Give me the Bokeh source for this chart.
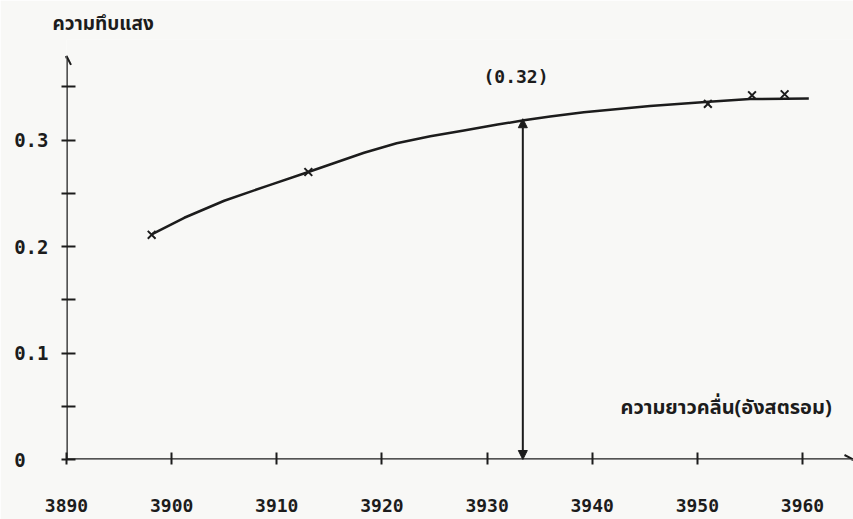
from bokeh.plotting import figure
from bokeh.models import Range1d, FixedTicker, Arrow, NormalHead, OpenHead, Label
from bokeh.embed import file_html
from bokeh.resources import INLINE

# ---- data ----
x_ticks = [3890, 3900, 3910, 3920, 3930, 3940, 3950, 3960]
y_ticks = [0, 0.1, 0.2, 0.3]
y_minor_ticks = [0.05, 0.15, 0.25, 0.35]

# measured points (x marks)
mark_wavelength = [3898.1, 3913.0, 3951.0, 3955.2, 3958.3]
mark_absorbance = [0.211, 0.270, 0.334, 0.342, 0.343]

# hand-drawn smooth curve, read along its length
curve_wavelength = [3898.1, 3901.2, 3905.0, 3909.1, 3913.0, 3918.3, 3921.4,
                    3924.6, 3927.8, 3931.0, 3933.5, 3936.0, 3939.2, 3945.5,
                    3951.1, 3955.0, 3960.6]
curve_absorbance = [0.2115, 0.227, 0.243, 0.257, 0.270, 0.288, 0.297,
                    0.3035, 0.309, 0.3145, 0.3185, 0.322, 0.326, 0.332,
                    0.336, 0.3385, 0.339]

peak_wavelength = 3933.4
peak_absorbance = 0.32

y_title = "ความทึบแสง"
x_title = "ความยาวคลื่น(อังสตรอม)"

INK = "#1c1c1c"
BG = "#f8f8f6"
MONO = "DejaVu Sans Mono"
THAI = "Noto Sans Thai, Loma, Garuda, Tlwg Typo, Noto Sans, sans-serif"

X_END = 3964.85
Y_END = 0.3944

p = figure(width=853, height=519, output_backend="svg", toolbar_location=None,
           x_range=Range1d(x_ticks[0], X_END), y_range=Range1d(0, Y_END),
           min_border_left=66, min_border_right=0, min_border_top=39,
           min_border_bottom=60)

p.background_fill_color = BG
p.border_fill_color = BG
p.outline_line_color = None
p.grid.visible = False

# y-axis title placed in the title panel (left of the frame edge)
p.title.text = y_title
p.title.align = "left"
p.title.offset = -14
p.title.standoff = 1
p.title.text_font = THAI
p.title.text_font_style = "bold"
p.title.text_font_size = "19px"
p.title.text_color = INK

# x axis
xa = p.xaxis[0]
xa.ticker = FixedTicker(ticks=x_ticks)
xa.axis_line_color = None
xa.major_tick_in = 7
xa.major_tick_out = 5
xa.major_tick_line_width = 2
xa.major_tick_line_color = INK
xa.minor_tick_line_color = None
xa.major_label_standoff = 34
xa.major_label_text_font = MONO
xa.major_label_text_font_style = "bold"
xa.major_label_text_font_size = "18px"
xa.major_label_text_color = INK

# y axis
ya = p.yaxis[0]
ya.ticker = FixedTicker(ticks=y_ticks, minor_ticks=y_minor_ticks)
ya.axis_line_color = None
ya.major_tick_in = 9
ya.major_tick_out = 5
ya.minor_tick_in = 9
ya.minor_tick_out = 5
ya.major_tick_line_width = 2
ya.minor_tick_line_width = 2
ya.major_tick_line_color = INK
ya.minor_tick_line_color = INK
ya.major_label_standoff = 13
ya.major_label_text_font = MONO
ya.major_label_text_font_style = "bold"
ya.major_label_text_font_size = "19px"
ya.major_label_text_color = INK
ya.major_label_overrides = {0: "0\u00a0\u00a0"}

# axis lines with arrow heads
p.add_layout(Arrow(end=OpenHead(size=9, line_width=2, line_color=INK),
                   x_start=x_ticks[0], y_start=0, x_end=X_END, y_end=0,
                   line_width=2.5, line_color=INK))
p.add_layout(Arrow(end=OpenHead(size=9, line_width=2, line_color=INK),
                   x_start=x_ticks[0], y_start=0, x_end=x_ticks[0], y_end=0.379,
                   line_width=2.5, line_color=INK))

# curve and marks
p.line(curve_wavelength, curve_absorbance, line_width=2.5, line_color=INK)
p.scatter(mark_wavelength, mark_absorbance, marker="x", size=11,
          line_width=2, line_color=INK)

# double arrow at peak
p.add_layout(Arrow(start=NormalHead(size=9, fill_color=INK, line_color=INK),
                   end=NormalHead(size=9, fill_color=INK, line_color=INK),
                   x_start=peak_wavelength, y_start=0,
                   x_end=peak_wavelength, y_end=peak_absorbance,
                   line_width=2, line_color=INK))

p.add_layout(Label(x=3929.66, y=0.360, text=f"({peak_absorbance:.2f})",
                   text_font=MONO, text_font_style="bold", text_font_size="18px",
                   text_color=INK, text_baseline="middle"))

p.add_layout(Label(x=3942.69, y=0.0484, text=x_title,
                   text_font=THAI, text_font_style="bold", text_font_size="20px",
                   text_color=INK, text_baseline="middle"))

open("out.html", "w").write(file_html(p, INLINE))
